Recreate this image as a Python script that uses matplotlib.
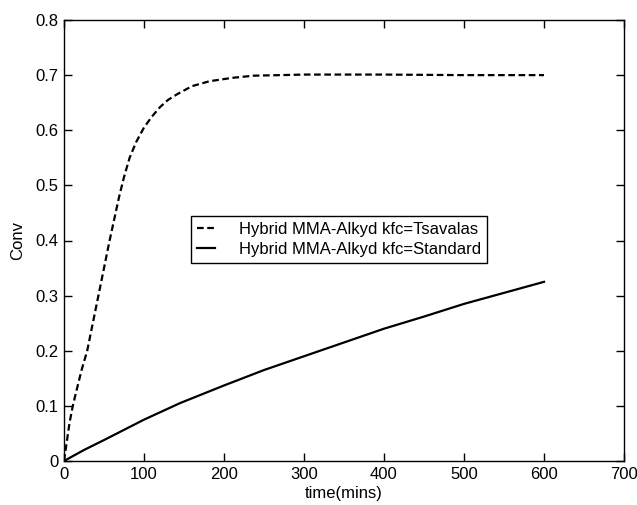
import numpy as np
import matplotlib.pyplot as plt

plt.rcParams['font.family'] = ['Liberation Sans', 'DejaVu Sans']

# Dados
t_tsav = [0, 3, 7, 11, 16, 22, 29, 36, 43, 50, 57, 63, 69, 75, 82, 90, 100,
          110, 120, 130, 141, 160, 182, 210, 237, 270, 300, 400, 500, 600]
conv_tsav = [0, 0.03, 0.07, 0.10, 0.13, 0.165, 0.20, 0.25, 0.30, 0.35, 0.40,
             0.44, 0.48, 0.515, 0.55, 0.578, 0.605, 0.625, 0.642, 0.655,
             0.665, 0.68, 0.689, 0.695, 0.699, 0.700, 0.701, 0.701, 0.700,
             0.700]

t_std = [0, 25, 50, 100, 145, 200, 250, 300, 350, 400, 450, 500, 550, 600]
conv_std = [0, 0.02, 0.038, 0.075, 0.105, 0.137, 0.165, 0.19, 0.215, 0.24,
            0.262, 0.285, 0.305, 0.325]

fig = plt.figure(figsize=(6.37, 5.05), dpi=100)
ax = fig.add_axes([64 / 637, 1 - 461 / 505, 560 / 637, 441 / 505])

ax.plot(t_tsav, conv_tsav, color='black', lw=1.6, ls=(0, (3, 1.6)),
        label='Hybrid MMA-Alkyd kfc=Tsavalas')
ax.plot(t_std, conv_std, color='black', lw=1.6,
        label='Hybrid MMA-Alkyd kfc=Standard')

ax.set_xlim(0, 700)
ax.set_ylim(0, 0.8)
ax.set_xticks(np.arange(0, 701, 100))
ax.set_yticks(np.arange(0, 0.81, 0.1))
ax.set_yticklabels(['0', '0.1', '0.2', '0.3', '0.4', '0.5', '0.6', '0.7', '0.8'])
ax.tick_params(direction='in', top=True, right=True, length=6, width=1,
               labelsize=12, pad=4)
for s in ax.spines.values():
    s.set_linewidth(1)

ax.set_xlabel('time(mins)', fontsize=12, labelpad=3)
ax.set_ylabel('Conv', fontsize=12, labelpad=7)

leg = ax.legend(loc='upper left', bbox_to_anchor=((191 - 64) / 560, (461 - 216) / 441),
                fontsize=12, handlelength=1.1, handletextpad=1.45,
                borderpad=0.35, labelspacing=0.3, borderaxespad=0,
                fancybox=False, framealpha=1, edgecolor='black')
leg.get_frame().set_linewidth(1)

fig.savefig('out.png', dpi=100)
